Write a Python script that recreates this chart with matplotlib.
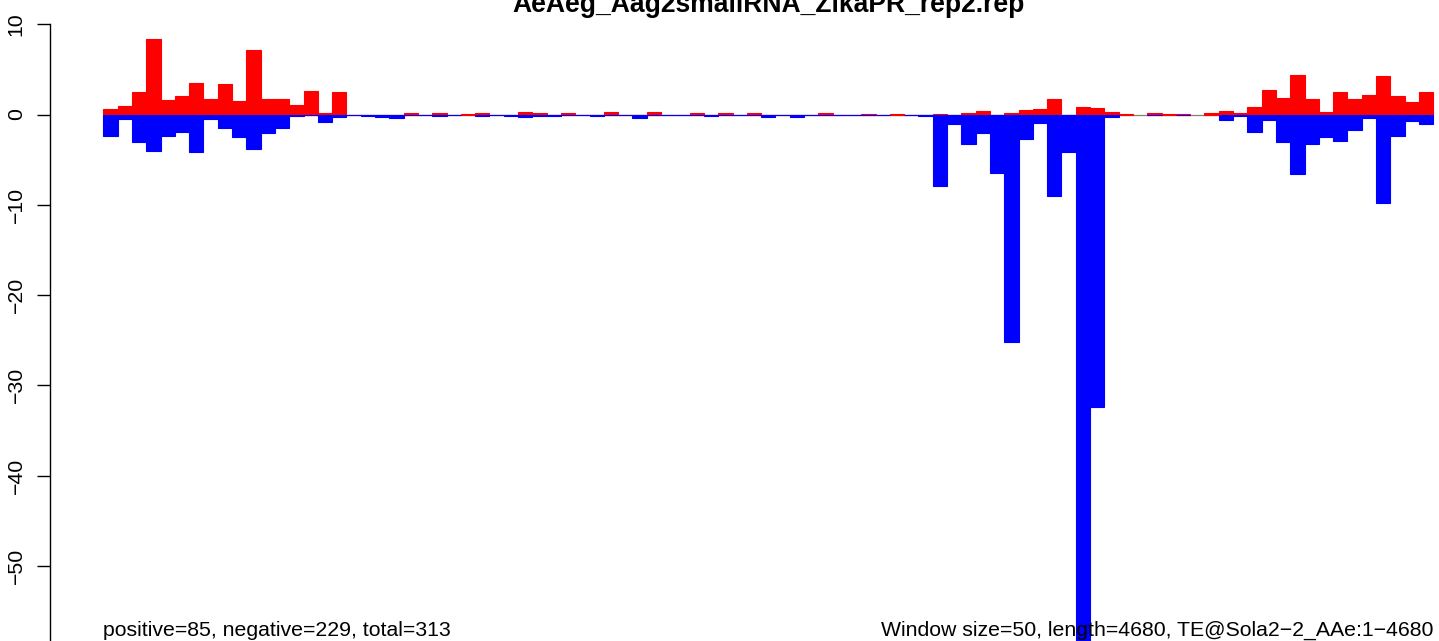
import numpy as np
import matplotlib
matplotlib.use("Agg")
import matplotlib.pyplot as plt
import matplotlib.transforms as mtransforms

plt.rcParams['font.family'] = ['Liberation Sans', 'DejaVu Sans']

nan = np.nan

title = "AeAeg_Aag2smallRNA_ZikaPR_rep2.rep"
window_size = 50
te_length = 4680
te_name = "Sola2\u22122_AAe"
n_positive = 85
n_negative = 229
n_total = 313

# per-window normalised counts, sense (red) and antisense (blue)
pos_counts = [
    0.6, 0.95, 2.5, 8.35, 1.6, 2.05, 3.5, 1.7, 3.4, 1.5,
    7.15, 1.7, 1.7, 1.05, 2.6, 0.15, 2.5, 0, 0, 0,
    0, 0.15, 0, 0.15, 0, 0.1, 0.15, 0, 0, 0.25,
    0.15, 0, 0.15, 0, 0, 0.25, 0, 0, 0.25, 0,
    0, 0.15, 0, 0.15, 0, 0.15, 0, 0, 0, 0,
    0.15, 0, 0, 0.1, 0, 0.1, 0, 0, 0.1, 0,
    0.15, 0.4, 0, 0.15, 0.5, 0.6, 1.7, 0, 0.8, 0.7,
    0.3, 0.1, nan, 0.15, 0.1, 0.1, nan, 0.15, 0.35, 0.15,
    0.8, 2.7, 1.8, 4.35, 1.7, 0.25, 2.45, 1.7, 2.15, 4.25,
    2.0, 1.4, 2.45,
]
neg_counts = [
    -2.35, -0.5, -3.1, -4.0, -2.35, -1.9, -4.1, -0.5, -1.45, -2.45,
    -3.8, -2.0, -1.55, -0.15, -0.05, -0.8, -0.25, -0.05, -0.15, -0.25,
    -0.4, -0.1, -0.05, -0.2, -0.05, nan, -0.2, -0.05, -0.2, -0.3,
    -0.15, -0.15, -0.05, -0.05, -0.2, 0, -0.05, -0.35, 0, -0.05,
    -0.05, 0, -0.2, 0, -0.05, 0, -0.3, -0.05, -0.3, -0.05,
    0, -0.05, -0.05, -0.05, -0.05, nan, -0.05, -0.2, -7.95, -1.0,
    -3.25, -2.0, -6.45, -25.2, -2.7, -0.9, -9.0, -4.15, -61.5, -32.4,
    -0.3, nan, nan, -0.1, nan, -0.1, nan, nan, -0.65, -0.2,
    -1.9, -0.65, -3.0, -6.55, -3.25, -2.45, -2.9, -1.7, -0.35, -9.75,
    -2.35, -0.7, -1.0,
]

n = len(pos_counts)
xs = np.arange(n)

W, H = 1439, 641
px_per_unit = 9.03
zero_px = 114.5
y_top, y_bot = zero_px / px_per_unit, -64.0

fig = plt.figure(figsize=(W / 100, H / 100), dpi=100)
# the picture is a crop of a larger R plot: let the axes run past the bottom edge
ax_h = (y_top - y_bot) * px_per_unit / H
ax = fig.add_axes([0, 1 - ax_h, 1, ax_h])

# grey zero line under the bars, only across the windows
ax.hlines(0, 0, n, color='grey', lw=0.9, zorder=1)
ax.bar(xs, pos_counts, width=1, align='edge', color='red', edgecolor='red', lw=0.8, zorder=2)
ax.bar(xs, neg_counts, width=1, align='edge', color='blue', edgecolor='blue', lw=0.8, zorder=3)

for s in ['top', 'right', 'bottom']:
    ax.spines[s].set_visible(False)
ax.spines['left'].set_position(('data', -n * 0.04))
ax.spines['left'].set_bounds(-60, 10)
ax.spines['left'].set_linewidth(1.0)
ax.set_xticks([])
ax.set_yticks(range(-60, 11, 10))
ax.tick_params(axis='y', direction='out', length=9.5, width=1.0, pad=8, labelsize=15.3)
for lab in ax.get_yticklabels():
    lab.set_rotation(90)
    lab.set_va('center')

ax.set_xlim(-7.224, 93.405)
ax.set_ylim(y_bot, y_top)

top = mtransforms.blended_transform_factory(ax.transData, fig.transFigure)
ax.text(n / 2, 1 - 12 / H, title, transform=top, ha='center', va='baseline',
        fontsize=19.1, fontweight='bold')
ax.text(0, 5 / H, f"positive={n_positive}, negative={n_negative}, total={n_total}",
        transform=top, ha='left', va='baseline', fontsize=15.3)
ax.text(n, 5 / H,
        f"Window size={window_size}, length={te_length}, TE@{te_name}:1\u2212{te_length}",
        transform=top, ha='right', va='baseline', fontsize=15.3)

fig.savefig('out.png', dpi=100)
